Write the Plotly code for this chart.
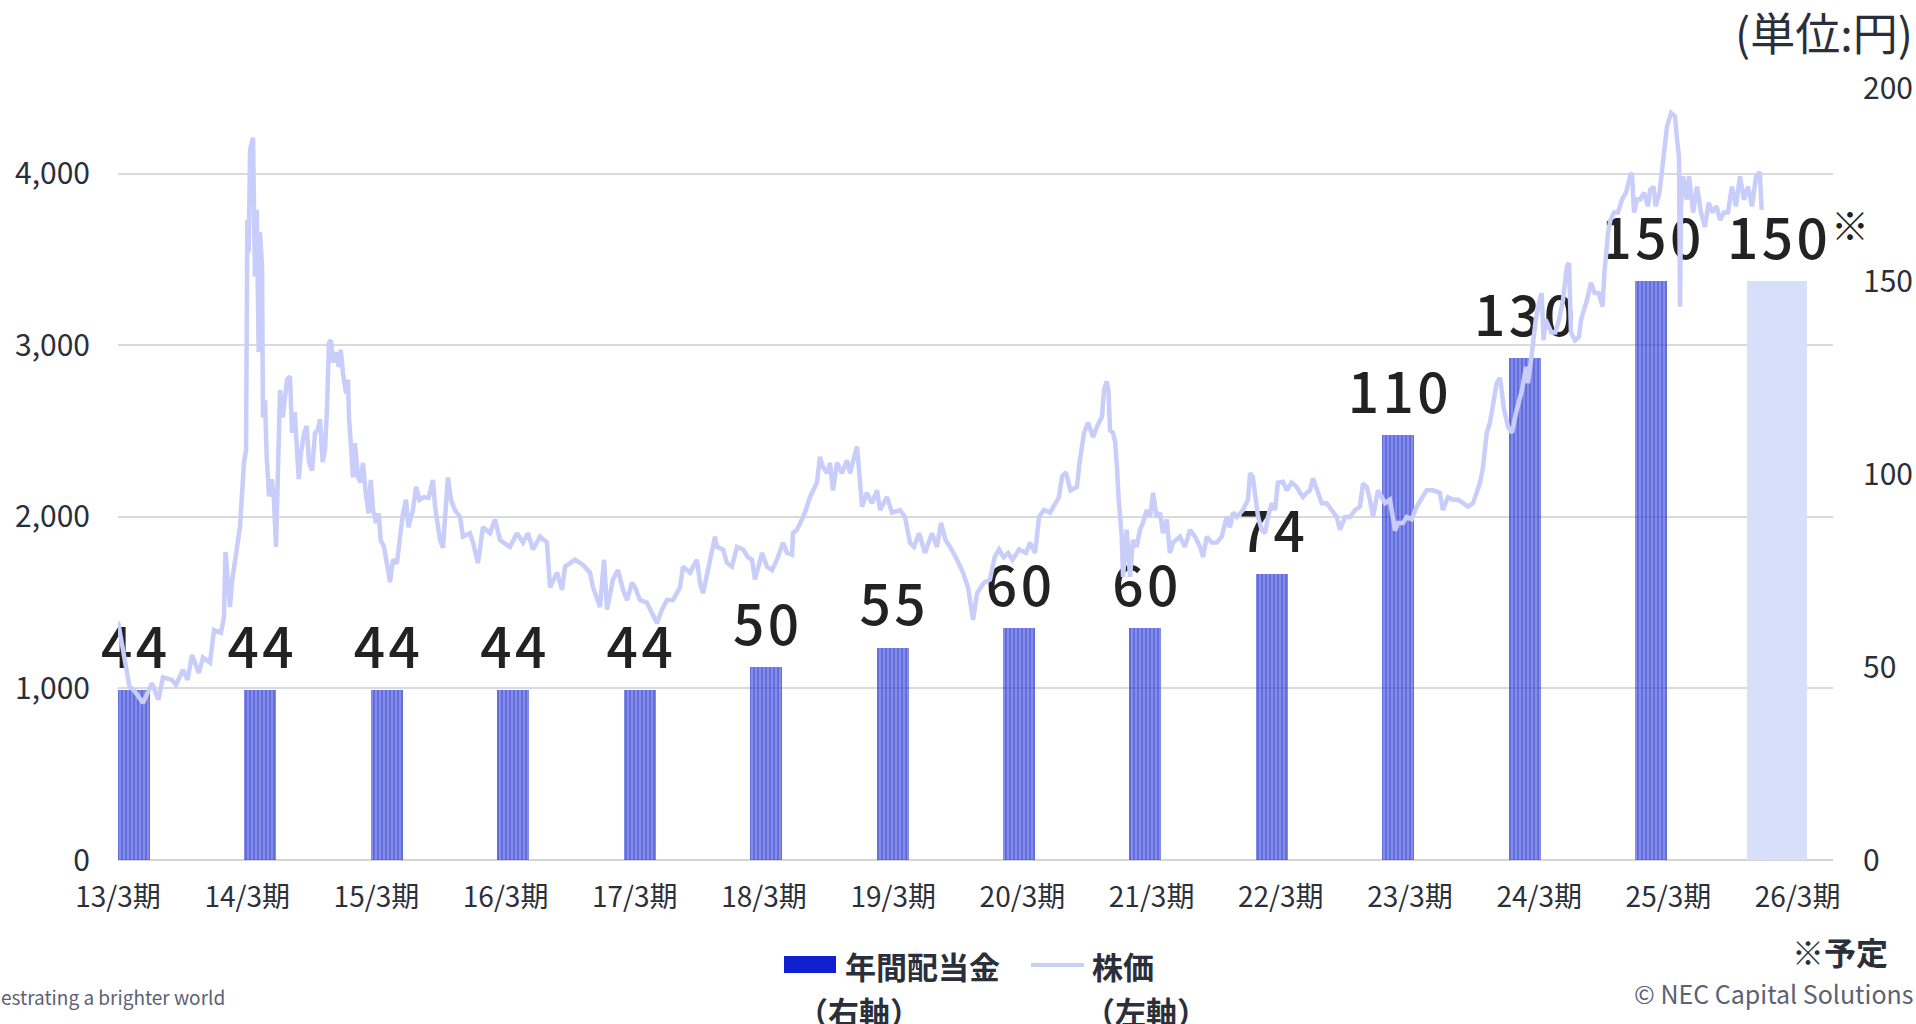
import plotly.graph_objects as go

# ---------------- data ----------------
categories = ['13/3期', '14/3期', '15/3期', '16/3期', '17/3期', '18/3期', '19/3期',
              '20/3期', '21/3期', '22/3期', '23/3期', '24/3期', '25/3期', '26/3期']
dividends = [44, 44, 44, 44, 44, 50, 55, 60, 60, 74, 110, 130, 150, 150]
dividend_labels = ['44', '44', '44', '44', '44', '50', '55', '60', '60', '74', '110', '130', '150', '150']
is_forecast = [False] * 13 + [True]

left_ticks = [0, 1000, 2000, 3000, 4000]
right_ticks = [0, 50, 100, 150, 200]

# stock price history: (years elapsed since the start of FY 13/3, price in yen)
price_history = [
    (0.000, 1390), (0.089, 1010), (0.124, 990), (0.193, 915), (0.263, 1030), (0.313, 935), (0.348, 1065), (0.418, 1050), (0.449, 1020), (0.503, 1110),
    (0.538, 1050), (0.573, 1195), (0.625, 1090), (0.658, 1180), (0.712, 1150), (0.743, 1340), (0.797, 1325), (0.820, 1415), (0.832, 1795), (0.867, 1475),
    (0.882, 1620), (0.918, 1825), (0.944, 1940), (0.957, 2100), (0.975, 2315), (0.991, 2390), (1.001, 3730), (1.012, 3540), (1.022, 4140), (1.045, 4210),
    (1.060, 3400), (1.074, 3790), (1.089, 2960), (1.099, 3660), (1.115, 3460), (1.122, 2580), (1.138, 2680), (1.151, 2350), (1.169, 2120), (1.190, 2220),
    (1.207, 2100), (1.223, 1825), (1.254, 2740), (1.275, 2580), (1.293, 2680), (1.308, 2800), (1.331, 2820), (1.347, 2490), (1.368, 2610), (1.399, 2220),
    (1.416, 2370), (1.440, 2490), (1.461, 2530), (1.478, 2320), (1.502, 2270), (1.525, 2490), (1.548, 2510), (1.563, 2570), (1.584, 2320), (1.602, 2390),
    (1.618, 2640), (1.633, 3015), (1.649, 3030), (1.664, 2900), (1.687, 2960), (1.708, 2875), (1.724, 2975), (1.741, 2840), (1.765, 2720), (1.780, 2800),
    (1.788, 2580), (1.811, 2370), (1.819, 2230), (1.834, 2430), (1.858, 2230), (1.878, 2200), (1.896, 2315), (1.920, 2120), (1.940, 2020), (1.956, 2215),
    (1.974, 2040), (1.997, 1965), (2.018, 2020), (2.033, 1865), (2.059, 1825), (2.090, 1690), (2.105, 1620), (2.128, 1750), (2.159, 1730), (2.180, 1865),
    (2.206, 2020), (2.229, 2100), (2.248, 1940), (2.283, 2040), (2.307, 2175), (2.334, 2100), (2.368, 2115), (2.404, 2110), (2.438, 2215), (2.454, 2060),
    (2.492, 1865), (2.515, 1820), (2.554, 2230), (2.577, 2100), (2.608, 2040), (2.647, 2000), (2.670, 1885), (2.724, 1905), (2.748, 1850), (2.786, 1730),
    (2.825, 1940), (2.879, 1905), (2.918, 1985), (2.957, 1865), (3.034, 1825), (3.088, 1905), (3.135, 1850), (3.173, 1905), (3.212, 1810), (3.266, 1885),
    (3.320, 1850), (3.344, 1590), (3.398, 1675), (3.437, 1575), (3.460, 1710), (3.537, 1750), (3.599, 1720), (3.653, 1675), (3.676, 1590), (3.731, 1475),
    (3.762, 1750), (3.785, 1460), (3.831, 1635), (3.870, 1690), (3.909, 1575), (3.940, 1515), (3.978, 1615), (4.002, 1590), (4.040, 1515), (4.094, 1500),
    (4.133, 1440), (4.172, 1380), (4.211, 1460), (4.249, 1515), (4.296, 1515), (4.350, 1590), (4.373, 1710), (4.427, 1675), (4.481, 1750), (4.505, 1615),
    (4.528, 1555), (4.559, 1675), (4.621, 1885), (4.636, 1825), (4.683, 1810), (4.714, 1730), (4.752, 1710), (4.791, 1825), (4.838, 1810), (4.876, 1765),
    (4.907, 1750), (4.930, 1635), (4.985, 1790), (5.023, 1710), (5.062, 1690), (5.108, 1765), (5.147, 1850), (5.178, 1790), (5.217, 1780), (5.224, 1905),
    (5.255, 1925), (5.294, 1985), (5.317, 2025), (5.356, 2115), (5.379, 2155), (5.410, 2200), (5.433, 2350), (5.457, 2290), (5.488, 2255), (5.511, 2315),
    (5.534, 2155), (5.565, 2315), (5.604, 2255), (5.642, 2330), (5.666, 2255), (5.689, 2330), (5.720, 2410), (5.759, 2060), (5.797, 2140), (5.836, 2080),
    (5.875, 2155), (5.898, 2040), (5.952, 2115), (5.991, 2025), (6.053, 2040), (6.091, 2000), (6.130, 1850), (6.161, 1825), (6.200, 1905), (6.246, 1790),
    (6.300, 1905), (6.339, 1825), (6.370, 1965), (6.405, 1865), (6.440, 1825), (6.494, 1750), (6.540, 1675), (6.579, 1590), (6.594, 1515), (6.618, 1400),
    (6.649, 1555), (6.699, 1615), (6.749, 1635), (6.785, 1765), (6.819, 1810), (6.855, 1765), (6.889, 1790), (6.923, 1750), (6.974, 1810), (7.028, 1790),
    (7.059, 1850), (7.098, 1790), (7.129, 2000), (7.167, 2040), (7.214, 2025), (7.252, 2080), (7.283, 2115), (7.307, 2235), (7.337, 2260), (7.372, 2155),
    (7.422, 2175), (7.442, 2315), (7.477, 2490), (7.508, 2550), (7.546, 2465), (7.577, 2525), (7.616, 2585), (7.632, 2740), (7.652, 2790), (7.666, 2740),
    (7.678, 2505), (7.701, 2490), (7.717, 2440), (7.732, 2290), (7.744, 2115), (7.769, 1885), (7.779, 1650), (7.807, 1925), (7.833, 1650), (7.856, 1865),
    (7.885, 1825), (7.910, 1925), (7.933, 1965), (7.962, 2040), (7.988, 2000), (8.011, 2140), (8.039, 2000), (8.065, 2025), (8.088, 1905), (8.117, 1985),
    (8.142, 1790), (8.166, 1850), (8.194, 1865), (8.220, 1885), (8.258, 1825), (8.297, 1925), (8.336, 1885), (8.375, 1825), (8.398, 1765), (8.427, 1885),
    (8.465, 1850), (8.504, 1850), (8.543, 1885), (8.581, 2000), (8.607, 1940), (8.630, 2025), (8.659, 2000), (8.707, 2040), (8.746, 2100), (8.762, 2255),
    (8.783, 2235), (8.800, 2115), (8.824, 2000), (8.852, 1925), (8.878, 1905), (8.901, 2000), (8.930, 2080), (8.955, 2040), (8.978, 2200), (9.017, 2205),
    (9.046, 2155), (9.084, 2200), (9.123, 2175), (9.149, 2140), (9.172, 2115), (9.200, 2140), (9.226, 2155), (9.249, 2225), (9.278, 2155), (9.317, 2080),
    (9.355, 2080), (9.394, 2040), (9.433, 2000), (9.458, 1925), (9.497, 2000), (9.536, 2000), (9.574, 2040), (9.613, 2060), (9.636, 2195), (9.665, 2175),
    (9.690, 2100), (9.714, 2000), (9.752, 2155), (9.781, 2115), (9.807, 2080), (9.845, 2100), (9.884, 1920), (9.907, 1965), (9.946, 1965), (9.975, 2000),
    (10.013, 1985), (10.052, 2060), (10.091, 2115), (10.129, 2155), (10.178, 2155), (10.232, 2140), (10.255, 2040), (10.294, 2115), (10.333, 2100), (10.372, 2100),
    (10.410, 2080), (10.449, 2060), (10.488, 2080), (10.516, 2140), (10.542, 2200), (10.565, 2290), (10.594, 2490), (10.619, 2550), (10.642, 2640), (10.671, 2780),
    (10.697, 2810), (10.728, 2625), (10.759, 2525), (10.789, 2490), (10.820, 2605), (10.867, 2740), (10.898, 2875), (10.913, 2780), (10.944, 2955), (10.973, 3150),
    (11.004, 3265), (11.019, 3305), (11.034, 3030), (11.050, 3150), (11.095, 3075), (11.125, 3075), (11.153, 3150), (11.184, 3265), (11.215, 3460), (11.231, 3480),
    (11.246, 3075), (11.277, 3030), (11.308, 3050), (11.324, 3150), (11.370, 3265), (11.401, 3365), (11.429, 3305), (11.460, 3305), (11.490, 3225), (11.505, 3425),
    (11.533, 3655), (11.551, 3730), (11.579, 3775), (11.610, 3775), (11.641, 3850), (11.672, 3890), (11.703, 3985), (11.718, 4005), (11.734, 3775), (11.757, 3850),
    (11.780, 3850), (11.811, 3890), (11.842, 3810), (11.858, 3905), (11.885, 3925), (11.901, 3810), (11.931, 3890), (11.947, 4005), (11.974, 4180), (11.989, 4275),
    (12.020, 4355), (12.051, 4335), (12.067, 4200), (12.082, 4100), (12.090, 3225), (12.098, 3810), (12.113, 3985), (12.144, 3850), (12.160, 3985), (12.191, 3775),
    (12.222, 3925), (12.252, 3775), (12.283, 3690), (12.311, 3830), (12.341, 3775), (12.373, 3810), (12.400, 3730), (12.430, 3775), (12.461, 3775), (12.492, 3925),
    (12.523, 3810), (12.554, 3985), (12.585, 3850), (12.616, 3925), (12.647, 3810), (12.678, 3985), (12.707, 4010), (12.722, 3790),
]
price_t = [t for t, _ in price_history]
price = [p for _, p in price_history]

# ---------------- styles ----------------
W, H = 1916, 1024
PL, PR, PT, PB = 118, 1833, 88, 860          # plot area in page pixels
FONT = 'Noto Sans CJK JP'
TXT = '#2b2f3a'
GREY = '#5b6275'
BAR_BLUE = '#1020d0'
BAR_FORECAST = '#d6e0fb'
LINE_COLOR = '#c9cdf9'


def fx(px):
    return (px - PL) / (PR - PL)


def fy(py):
    return (PB - py) / (PB - PT)


bar_colors = [BAR_FORECAST if f else BAR_BLUE for f in is_forecast]
bar_opacity = [1.0 if f else 0.65 for f in is_forecast]
bar_shapes = ['' if f else '|' for f in is_forecast]
bar_widths = [0.475 if f else 0.253 for f in is_forecast]
# slightly expanded character spacing for the big value labels
label_text = ['\u200a'.join(s) for s in dividend_labels]

fig = go.Figure()

fig.add_trace(go.Bar(
    x=categories, y=dividends, width=bar_widths, xaxis='x', yaxis='y',
    marker=dict(color=bar_colors, opacity=bar_opacity, line=dict(width=0),
                pattern=dict(shape=bar_shapes, fgcolor='#5a66ee', size=4, solidity=0.22)),
    hoverinfo='skip', showlegend=False,
))

fig.add_trace(go.Scatter(
    x=categories, y=dividends, xaxis='x', yaxis='y', mode='markers+text',
    text=label_text, textposition='top center',
    marker=dict(size=12, opacity=0),
    textfont=dict(family=FONT, size=55, color='#222222', weight=500),
    cliponaxis=False, hoverinfo='skip', showlegend=False,
))

fig.add_trace(go.Scatter(
    x=price_t, y=price, xaxis='x2', yaxis='y2', mode='lines',
    line=dict(color=LINE_COLOR, width=4.5), cliponaxis=False,
    hoverinfo='skip', showlegend=False,
))

fig.update_layout(
    width=W, height=H, autosize=False,
    margin=dict(l=PL, r=W - PR, t=PT, b=H - PB, pad=0),
    paper_bgcolor='white', plot_bgcolor='white', showlegend=False,
    font=dict(family=FONT, color=TXT),
    bargap=0,
    xaxis=dict(type='category', range=[-0.127, 13.44], showticklabels=False, automargin=False,
               showgrid=False, zeroline=False, showline=False, ticks=''),
    xaxis2=dict(overlaying='x', anchor='y2', side='bottom', range=[0, 13.274], automargin=False,
                tickmode='array', tickvals=list(range(len(categories))), ticktext=categories,
                showgrid=False, zeroline=False, showline=False, ticks='',
                tickfont=dict(size=28, color=TXT), ticklabelstandoff=18),
    yaxis=dict(side='right', range=[0, 200], tickmode='array', tickvals=right_ticks, automargin=False,
               showgrid=False, zeroline=False, showline=False, ticks='',
               tickfont=dict(size=30, color=TXT), ticklabelstandoff=29),
    yaxis2=dict(overlaying='y', side='left', range=[0, 4500], tickmode='array', automargin=False,
                tickvals=left_ticks, tickformat=',d',
                showgrid=True, gridcolor='#dadada', gridwidth=1.5,
                zeroline=True, zerolinecolor='#d4d4d4', zerolinewidth=2,
                showline=False, ticks='',
                tickfont=dict(size=30, color=TXT), ticklabelstandoff=27),
)

annotations = [
    dict(x='26/3期', y=150, xref='x', yref='y', text='※', showarrow=False,
         xanchor='left', yanchor='bottom', xshift=52, yshift=28,
         font=dict(family=FONT, size=38, color='#222222')),
    dict(x=fx(1915), y=fy(32), text='(単位:円)', xanchor='right', yanchor='middle',
         font=dict(family=FONT, size=45, color=TXT)),
    dict(x=fx(843), y=fy(965), text='年間配当金', xanchor='left', yanchor='middle',
         font=dict(family=FONT, size=31, color=TXT, weight='bold')),
    dict(x=fx(795), y=fy(1010), text='（右軸）', xanchor='left', yanchor='middle',
         font=dict(family=FONT, size=31, color=TXT, weight='bold')),
    dict(x=fx(1090), y=fy(965), text='株価', xanchor='left', yanchor='middle',
         font=dict(family=FONT, size=31, color=TXT, weight='bold')),
    dict(x=fx(1082), y=fy(1010), text='（左軸）', xanchor='left', yanchor='middle',
         font=dict(family=FONT, size=31, color=TXT, weight='bold')),
    dict(x=fx(1890), y=fy(951), text='※予定', xanchor='right', yanchor='middle',
         font=dict(family=FONT, size=32, color=TXT, weight='bold')),
    dict(x=fx(1915), y=fy(993), text='© NEC Capital Solutions', xanchor='right', yanchor='middle',
         font=dict(family=FONT, size=25, color=GREY)),
    dict(x=fx(-1), y=fy(996), text='estrating a brighter world', xanchor='left', yanchor='middle',
         font=dict(family=FONT, size=19, color=GREY)),
]
for a in annotations:
    a.setdefault('xref', 'paper')
    a.setdefault('yref', 'paper')
    a['showarrow'] = False
fig.update_layout(annotations=annotations)

fig.update_layout(shapes=[
    dict(type='rect', xref='paper', yref='paper', x0=fx(784), x1=fx(836), y0=fy(973), y1=fy(956),
         fillcolor=BAR_BLUE, line=dict(width=0)),
    dict(type='line', xref='paper', yref='paper', x0=fx(1031), x1=fx(1084), y0=fy(965), y1=fy(965),
         line=dict(color=LINE_COLOR, width=4)),
])

fig.write_html('out.html')
